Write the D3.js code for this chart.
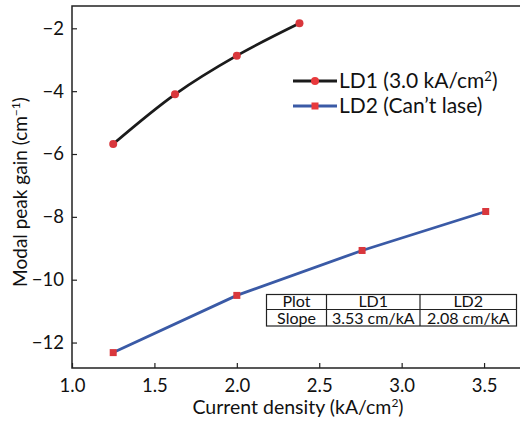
<!DOCTYPE html>
<html>
<head>
<meta charset="utf-8">
<script src="https://cdn.jsdelivr.net/npm/d3@7"></script>
<style>
  body { margin: 0; background: #fff; }
  text { font-family: Lato, "Open Sans", sans-serif; fill: #111; }
</style>
</head>
<body>
<svg class="chart" width="521" height="423"></svg>
<script>
// Chart values
const ld1X = [1.25, 1.625, 2.0, 2.38];
const ld1Y = [-5.68, -4.1, -2.87, -1.84];
const ld2X = [1.25, 2.0, 2.76, 3.51];
const ld2Y = [-12.32, -10.5, -9.07, -7.83];
const xTicks = [1.0, 1.5, 2.0, 2.5, 3.0, 3.5];
const yTicks = [-2, -4, -6, -8, -10, -12];
const legendLabels = ["LD1 (3.0 kA/cm", "LD2 (Can\u2019t lase)"];
const tableRows = [
  ["Plot", "LD1", "LD2"],
  ["Slope", "3.53 cm/kA", "2.08 cm/kA"]
];

const svg = d3.select(".chart");
const margin = { top: 6, right: 1, bottom: 55, left: 72 };
const width = +svg.attr("width");
const height = +svg.attr("height");
const innerWidth = width - margin.left - margin.right;
const innerHeight = height - margin.top - margin.bottom;

const x = d3.scaleLinear().domain([1.0, 3.718]).range([0, innerWidth]);
const y = d3.scaleLinear().domain([-12.81, -1.29]).range([innerHeight, 0]);

const g = svg.append("g").attr("transform", `translate(${margin.left},${margin.top})`);

// frame: left, bottom, top
g.append("path")
  .attr("d", `M${innerWidth},0H0V${innerHeight}H${innerWidth}`)
  .attr("fill", "none")
  .attr("stroke", "#222")
  .attr("stroke-width", 1.5);

// inward ticks
const xAxis = g.append("g").attr("transform", `translate(0,${innerHeight})`)
  .call(d3.axisBottom(x).tickValues(xTicks).tickSizeInner(-5).tickSizeOuter(0).tickPadding(11).tickFormat(d3.format(".1f")));
const yAxis = g.append("g")
  .call(d3.axisLeft(y).tickValues(yTicks).tickSizeInner(-5).tickSizeOuter(0).tickPadding(8).tickFormat(d => "\u2212" + Math.abs(d)));
[xAxis, yAxis].forEach(a => {
  a.select(".domain").remove();
  a.selectAll("line").attr("stroke", "#222").attr("stroke-width", 1.2);
  a.selectAll("text").style("font-size", "18.5px").attr("fill", "#111");
});

// axis titles
const xt = svg.append("text")
  .attr("x", margin.left + 226).attr("y", 414)
  .attr("text-anchor", "middle")
  .style("font-size", "19.5px");
xt.append("tspan").text("Current density (kA/cm");
xt.append("tspan").attr("dy", -7).style("font-size", "12px").text("2");
xt.append("tspan").attr("dy", 7).text(")");

const yt = svg.append("text")
  .attr("transform", "translate(27,192) rotate(-90)")
  .attr("text-anchor", "middle")
  .style("font-size", "19px");
yt.append("tspan").text("Modal peak gain (cm");
yt.append("tspan").attr("dy", -7).style("font-size", "12px").text("\u22121");
yt.append("tspan").attr("dy", 7).text(")");

// series
const ld1 = ld1X.map((v, i) => [v, ld1Y[i]]);
const ld2 = ld2X.map((v, i) => [v, ld2Y[i]]);
const line = d3.line().x(d => x(d[0])).y(d => y(d[1])).curve(d3.curveCatmullRom.alpha(0.5));

g.append("path").attr("d", line(ld1)).attr("fill", "none").attr("stroke", "#1b1b1b").attr("stroke-width", 2.8);
g.append("path").attr("d", d3.line().x(d => x(d[0])).y(d => y(d[1]))(ld2))
  .attr("fill", "none").attr("stroke", "#3a5aa6").attr("stroke-width", 2.8);

g.selectAll(".c1").data(ld1).enter().append("circle")
  .attr("cx", d => x(d[0])).attr("cy", d => y(d[1])).attr("r", 4)
  .attr("fill", "#d9373c");
g.selectAll(".s2").data(ld2).enter().append("rect")
  .attr("x", d => x(d[0]) - 3.5).attr("y", d => y(d[1]) - 3.5)
  .attr("width", 7).attr("height", 7)
  .attr("fill", "#d9373c");

// legend
const legend = svg.append("g").attr("transform", "translate(293,81)");
legendLabels.forEach((lab, i) => {
  const row = legend.append("g").attr("transform", `translate(0,${i * 25})`);
  row.append("line").attr("x1", 0).attr("x2", 44).attr("y1", 0).attr("y2", 0)
    .attr("stroke", i === 0 ? "#1b1b1b" : "#3a5aa6").attr("stroke-width", 3);
  if (i === 0) {
    row.append("circle").attr("cx", 22).attr("cy", 0).attr("r", 4).attr("fill", "#e8393c");
  } else {
    row.append("rect").attr("x", 18.5).attr("y", -3.5).attr("width", 7).attr("height", 7).attr("fill", "#e8393c");
  }
  const t = row.append("text").attr("x", 46).attr("y", 7).style("font-size", "21px");
  t.append("tspan").text(lab);
  if (i === 0) {
    t.append("tspan").attr("dy", -7).style("font-size", "13px").text("2");
    t.append("tspan").attr("dy", 7).text(")");
  }
});

// slope table
const colEdges = [266.5, 326.5, 420, 516.5];
const rowEdges = [294.5, 309.5, 326];
const table = svg.append("g");
table.append("rect")
  .attr("x", colEdges[0]).attr("y", rowEdges[0])
  .attr("width", colEdges[3] - colEdges[0]).attr("height", rowEdges[2] - rowEdges[0])
  .attr("fill", "#fff").attr("stroke", "#222").attr("stroke-width", 1.2);
table.append("line").attr("x1", colEdges[0]).attr("x2", colEdges[3])
  .attr("y1", rowEdges[1]).attr("y2", rowEdges[1]).attr("stroke", "#222").attr("stroke-width", 1.2);
[1, 2].forEach(c => table.append("line")
  .attr("x1", colEdges[c]).attr("x2", colEdges[c])
  .attr("y1", rowEdges[0]).attr("y2", rowEdges[2]).attr("stroke", "#222").attr("stroke-width", 1.2));
tableRows.forEach((r, ri) => r.forEach((cell, ci) => {
  table.append("text")
    .attr("x", (colEdges[ci] + colEdges[ci + 1]) / 2)
    .attr("y", rowEdges[ri + 1] - 2.5)
    .attr("text-anchor", "middle")
    .style("font-size", "16px")
    .text(cell);
}));
</script>
</body>
</html>
